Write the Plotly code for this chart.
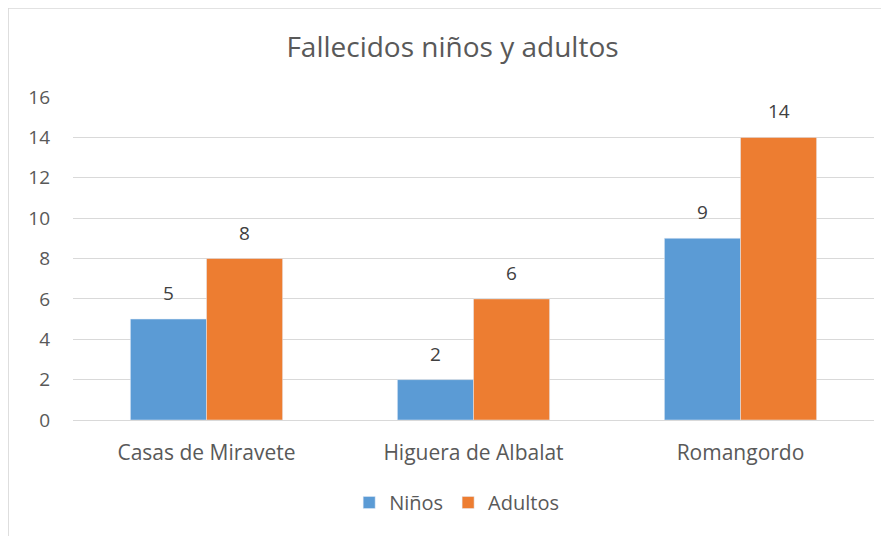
import plotly.graph_objects as go

# Data
localidades = ['Casas de Miravete', 'Higuera de Albalat', 'Romangordo']
ninos = [5, 2, 9]
adultos = [8, 6, 14]

text_color = '#595959'
font_family = 'Open Sans, Liberation Sans, sans-serif'

fig = go.Figure()
fig.add_trace(go.Bar(x=localidades, y=ninos, name='Niños', marker_color='#5B9BD5'))
fig.add_trace(go.Bar(x=localidades, y=adultos, name='Adultos', marker_color='#ED7D31'))

# data labels above each bar (offset left/right for the grouped bars)
for vals, shift in [(ninos, -38), (adultos, 38)]:
    for cat, v in zip(localidades, vals):
        fig.add_annotation(x=cat, y=v, text=str(v), showarrow=False, xshift=shift,
                           yanchor='bottom', yshift=11, font=dict(size=19, color='#404040'))

fig.update_layout(
    width=889, height=536,
    margin=dict(l=65, r=23, t=89, b=124),
    paper_bgcolor='white', plot_bgcolor='white',
    font=dict(family=font_family, color=text_color, size=19),
    title=dict(text='Fallecidos niños y adultos', x=0.5, xanchor='center',
               y=0.927, yanchor='middle', font=dict(size=28, color=text_color)),
    barmode='group', bargap=0.43, bargroupgap=0,
    legend=dict(orientation='h', x=0.479, xanchor='center', y=-0.195, yanchor='top',
                font=dict(size=20), itemwidth=30),
    showlegend=True,
)
fig.update_yaxes(range=[0, 16], dtick=2, showgrid=True, gridcolor='#D9D9D9', gridwidth=1,
                 zeroline=False, showline=False, ticks='', ticklabelstandoff=22,
                 tickfont=dict(size=19))
fig.update_xaxes(showline=True, linecolor='#D9D9D9', linewidth=1, ticks='',
                 ticklabelstandoff=14, tickfont=dict(size=21))

# chart border
fig.add_shape(type='rect', xref='paper', yref='paper', x0=-0.081, x1=1.05, y0=-0.5, y1=1.2755,
              line=dict(color='#D9D9D9', width=1.5), fillcolor='rgba(0,0,0,0)', layer='below')

fig.write_html('out.html')
